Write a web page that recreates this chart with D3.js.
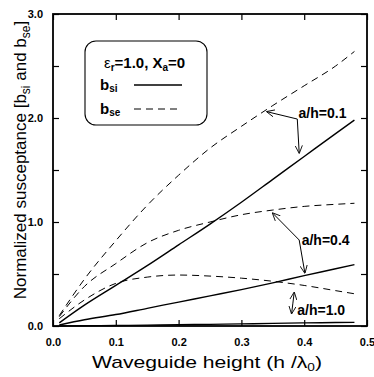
<!DOCTYPE html>
<html>
<head>
<meta charset="utf-8">
<script src="https://cdn.jsdelivr.net/npm/d3@7"></script>
<style>
  body { margin: 0; background: #fff; }
  svg { display: block; font-family: Arial, "Liberation Sans", sans-serif; }
</style>
</head>
<body>
<svg id="chart" width="374" height="377"></svg>
<script>
// waveguide height h/lambda0
const hVals = [0.01, 0.05, 0.1, 0.15, 0.2, 0.25, 0.3, 0.35, 0.4, 0.45, 0.48];

// a/h = 0.1
const bsi01 = [0.03, 0.2, 0.39, 0.58, 0.78, 0.98, 1.19, 1.41, 1.63, 1.85, 1.98];
const bse01 = [0.1, 0.45, 0.82, 1.16, 1.45, 1.71, 1.92, 2.12, 2.31, 2.5, 2.64];
// a/h = 0.4
const bsi04 = [0.01, 0.06, 0.11, 0.17, 0.23, 0.29, 0.35, 0.415, 0.485, 0.55, 0.59];
const bse04 = [0.09, 0.38, 0.6, 0.8, 0.92, 1.0, 1.07, 1.115, 1.15, 1.17, 1.18];
// a/h = 1.0
const bsi10 = [0.0, 0.003, 0.005, 0.008, 0.012, 0.016, 0.02, 0.025, 0.03, 0.033, 0.035];
const bse10 = [0.07, 0.25, 0.41, 0.47, 0.49, 0.48, 0.46, 0.43, 0.39, 0.34, 0.31];

const xTicks = [0, 0.1, 0.2, 0.3, 0.4, 0.5];
const yTicksLabeled = [0, 1, 2, 3];
const yTicksAll = [0, 0.5, 1, 1.5, 2, 2.5, 3];

// annotations: label, text pos, arrow vertex, arrow ends (data units)
const annoLabels = ['a/h=0.1', 'a/h=0.4', 'a/h=1.0'];
const annoText = [[0.391, 1.997], [0.396, 0.779], [0.389, 0.106]];
const annoArrows = [
  [[0.389, 1.99], [0.341, 2.06]],
  [[0.389, 1.99], [0.392, 1.666]],
  [[0.392, 0.827], [0.350, 1.084]],
  [[0.392, 0.827], [0.401, 0.513]],
  [[0.382, 0.22], [0.384, 0.32]],
  [[0.382, 0.22], [0.380, 0.122]]
];

const margin = { top: 14, right: 7, bottom: 51, left: 53 };
const width = 374 - margin.left - margin.right;
const height = 377 - margin.top - margin.bottom;

const svg = d3.select('#chart');
const g = svg.append('g').attr('transform', `translate(${margin.left},${margin.top})`);

const x = d3.scaleLinear().domain([0, 0.5]).range([0, width]);
const y = d3.scaleLinear().domain([0, 3]).range([height, 0]);

// arrow head marker
const defs = svg.append('defs');
defs.append('marker')
  .attr('id', 'arr')
  .attr('viewBox', '0 -5 10 10')
  .attr('refX', 9)
  .attr('refY', 0)
  .attr('markerWidth', 8)
  .attr('markerHeight', 8)
  .attr('markerUnits', 'userSpaceOnUse')
  .attr('orient', 'auto')
  .append('path')
  .attr('d', 'M0,-4.5L10,0L0,4.5')
  .attr('fill', 'none')
  .attr('stroke', '#000')
  .attr('stroke-width', 1.1);

// curves
const series = [
  { v: bse01, dash: true }, { v: bsi01, dash: false },
  { v: bse04, dash: true }, { v: bsi04, dash: false },
  { v: bse10, dash: true }, { v: bsi10, dash: false }
];

const line = d3.line()
  .x((d) => x(d[0]))
  .y((d) => y(d[1]))
  .curve(d3.curveMonotoneX);

g.append('g')
  .selectAll('path')
  .data(series)
  .join('path')
  .attr('d', (s) => line(hVals.map((h, i) => [h, s.v[i]])))
  .attr('fill', 'none')
  .attr('stroke', '#000')
  .attr('stroke-width', (s) => (s.dash ? 1 : 1.4))
  .attr('stroke-dasharray', (s) => (s.dash ? '7,5' : null));

// axes (ticks inward)
const tickStyle = (sel) => {
  sel.select('.domain').remove();
  sel.selectAll('.tick line').attr('stroke', '#000').attr('stroke-width', 1.2);
  sel.selectAll('.tick text')
    .attr('font-size', '11px')
    .attr('font-weight', 'bold')
    .attr('fill', '#000');
};

g.append('g')
  .attr('transform', `translate(0,${height})`)
  .call(d3.axisBottom(x).tickValues(xTicks).tickFormat(d3.format('.1f'))
    .tickSizeInner(-6).tickSizeOuter(0).tickPadding(12))
  .call(tickStyle);

g.append('g')
  .call(d3.axisTop(x).tickValues(xTicks).tickFormat('').tickSizeInner(-6).tickSizeOuter(0))
  .call(tickStyle);

g.append('g')
  .call(d3.axisLeft(y).tickValues(yTicksAll)
    .tickFormat((d) => (yTicksLabeled.includes(d) ? d3.format('.1f')(d) : ''))
    .tickSizeInner(-6).tickSizeOuter(0).tickPadding(10))
  .call(tickStyle);

g.append('g')
  .attr('transform', `translate(${width},0)`)
  .call(d3.axisRight(y).tickValues(yTicksAll).tickFormat('').tickSizeInner(-6).tickSizeOuter(0))
  .call(tickStyle);

// frame
g.append('rect')
  .attr('width', width)
  .attr('height', height)
  .attr('fill', 'none')
  .attr('stroke', '#000')
  .attr('stroke-width', 1.8);

// axis titles
const xTitle = svg.append('text')
  .attr('x', margin.left + width / 2 - 3)
  .attr('y', 368)
  .attr('text-anchor', 'middle')
  .attr('font-size', '17px')
  .attr('textLength', 230)
  .attr('lengthAdjust', 'spacingAndGlyphs');
xTitle.append('tspan').text('Waveguide height (h /λ');
xTitle.append('tspan').attr('font-size', '11px').attr('dy', 3).text('0');
xTitle.append('tspan').attr('dy', -3).text(')');

const yTitle = svg.append('text')
  .attr('transform', `translate(26,${margin.top + height / 2 - 10}) rotate(-90)`)
  .attr('text-anchor', 'middle')
  .attr('font-size', '17px');
yTitle.append('tspan').text('Normalized susceptance [b');
yTitle.append('tspan').attr('font-size', '12px').attr('dy', 4).text('si');
yTitle.append('tspan').attr('dy', -4).text(' and b');
yTitle.append('tspan').attr('font-size', '12px').attr('dy', 4).text('se');
yTitle.append('tspan').attr('dy', -4).text(']');

// legend box
const lg = svg.append('g').attr('transform', 'translate(85,41)');
lg.append('rect')
  .attr('width', 122)
  .attr('height', 84)
  .attr('rx', 11)
  .attr('fill', '#fff')
  .attr('stroke', '#000')
  .attr('stroke-width', 1.1);

const lt = lg.append('text')
  .attr('x', 19)
  .attr('y', 27)
  .attr('font-size', '15px')
  .attr('font-weight', 'bold');
lt.append('tspan').attr('font-weight', 'normal').text('ε');
lt.append('tspan').attr('font-size', '10px').attr('dy', 3).text('r');
lt.append('tspan').attr('dy', -3).text('=1.0, X');
lt.append('tspan').attr('font-size', '10px').attr('dy', 3).text('a');
lt.append('tspan').attr('dy', -3).text('=0');

const legendItems = [
  { name: 'b', sub: 'si', dash: null, ty: 49 },
  { name: 'b', sub: 'se', dash: '7,5', ty: 73 }
];
legendItems.forEach((it) => {
  const t = lg.append('text')
    .attr('x', 15)
    .attr('y', it.ty)
    .attr('font-size', '15px')
    .attr('font-weight', 'bold');
  t.append('tspan').text(it.name);
  t.append('tspan').attr('font-size', '10px').attr('dy', 2).text(it.sub);
  lg.append('line')
    .attr('x1', 49)
    .attr('x2', 97)
    .attr('y1', it.ty - 5)
    .attr('y2', it.ty - 5)
    .attr('stroke', '#000')
    .attr('stroke-width', it.dash ? 1 : 1.3)
    .attr('stroke-dasharray', it.dash);
});

// annotations
g.append('g')
  .selectAll('line')
  .data(annoArrows)
  .join('line')
  .attr('x1', (d) => x(d[0][0]))
  .attr('y1', (d) => y(d[0][1]))
  .attr('x2', (d) => x(d[1][0]))
  .attr('y2', (d) => y(d[1][1]))
  .attr('stroke', '#000')
  .attr('stroke-width', 1)
  .attr('marker-end', 'url(#arr)');

g.append('g')
  .selectAll('text')
  .data(annoLabels)
  .join('text')
  .attr('x', (d, i) => x(annoText[i][0]))
  .attr('y', (d, i) => y(annoText[i][1]))
  .attr('font-size', '14px')
  .attr('font-weight', 'bold')
  .text((d) => d);
</script>
</body>
</html>
